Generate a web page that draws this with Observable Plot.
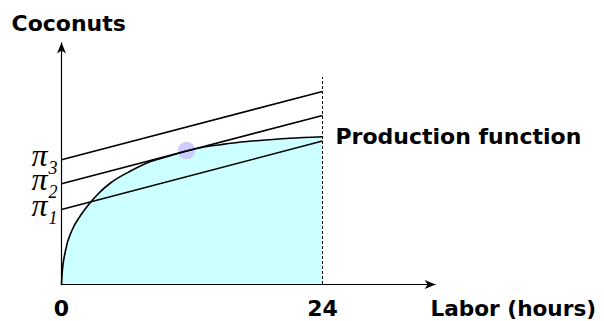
<!DOCTYPE html>
<html>
<head>
<meta charset="utf-8">
<script src="https://cdn.jsdelivr.net/npm/d3@7"></script>
<script src="https://cdn.jsdelivr.net/npm/@observablehq/plot@0.6"></script>
<style>
  html, body { margin: 0; padding: 0; background: #fff; }
  #chart svg { display: block; }
</style>
</head>
<body>
<div id="chart"></div>
<script>
// Production function (labor hours -> coconuts)
const laborHours = [0, 0.05, 0.35, 1.0, 1.75, 2.5, 3.4, 4.5, 6.35, 8.2, 10.0, 11.5, 13.0, 14.6, 16.5, 18.5, 21.0, 24];
const coconuts   = [0, 1.0, 3.3, 5.5, 6.9, 8.0, 9.1, 10.15, 11.35, 12.3, 12.88, 13.35, 13.72, 13.98, 14.25, 14.42, 14.62, 14.77];

// Iso-profit lines: value at 0 hours and at 24 hours
const profitLabels = ["1", "2", "3"];
const profitAt0  = [7.5, 10.07, 12.47];
const profitAt24 = [14.35, 16.9, 19.3];

// Optimum (tangency) point
const optimumHours = [11.5];
const optimumCoconuts = [13.4];

// Axis ticks and extents
const xTicks = [0, 24];
const xTickLabels = ["0", "24"];
const endowment = [24];
const endowmentTop = 20.7;
const xAxisEnd = 34.4;
const yAxisEnd = 24.2;

const curve = laborHours.map((h, i) => ({h, c: coconuts[i]}));
const iso = profitLabels.map((k, i) => ({k, y0: profitAt0[i], y1: profitAt24[i]}));
const opt = optimumHours.map((h, i) => ({h, c: optimumCoconuts[i]}));
const ticks = xTicks.map((t, i) => ({t, label: xTickLabels[i]}));

const arrowHead = {
  draw(ctx) {
    ctx.moveTo(0, 0);
    ctx.lineTo(-4.5, 11);
    ctx.lineTo(0, 8);
    ctx.lineTo(4.5, 11);
    ctx.closePath();
  }
};

const sans = "DejaVu Sans, Verdana, sans-serif";
const serif = "Liberation Serif, Times New Roman, serif";

const chart = Plot.plot({
  width: 604,
  height: 321,
  margin: 0,
  x: {domain: [0, 24], range: [61, 322], axis: null},
  y: {domain: [0, 24], range: [284, 44], axis: null},
  style: {background: "white"},
  marks: [
    Plot.areaY(curve, {x: "h", y: "c", fill: "#ccffff", curve: "monotone-x"}),
    Plot.dot(opt, {x: "h", y: "c", r: 8.7, fill: "#ccccff", stroke: "none"}),
    Plot.ruleX(endowment, {y1: 0, y2: endowmentTop, stroke: "black", strokeWidth: 1, strokeDasharray: "3,2"}),
    Plot.line(curve, {x: "h", y: "c", stroke: "black", strokeWidth: 1.6, curve: "monotone-x"}),
    Plot.link(iso, {x1: () => 0, x2: () => 24, y1: "y0", y2: "y1", stroke: "black", strokeWidth: 1.6}),
    // axes
    Plot.link([0], {x1: 0, x2: xAxisEnd, y1: 0, y2: 0, stroke: "black", strokeWidth: 1.2}),
    Plot.link([0], {x1: 0, x2: 0, y1: 0, y2: yAxisEnd, stroke: "black", strokeWidth: 1.2}),
    Plot.dot([0], {x: xAxisEnd, y: 0, symbol: arrowHead, rotate: 90, fill: "black", stroke: "none"}),
    Plot.dot([0], {x: 0, y: yAxisEnd, symbol: arrowHead, rotate: 0, fill: "black", stroke: "none"}),
    // pi labels
    Plot.text(iso, {x: () => 0, y: "y0", text: () => "π", textAnchor: "end", lineAnchor: "bottom",
      dx: -14, dy: 6, fontFamily: serif, fontStyle: "italic", fontSize: 32, fill: "black"}),
    Plot.text(iso, {x: () => 0, y: "y0", text: "k", textAnchor: "start", lineAnchor: "bottom",
      dx: -13, dy: 14, fontFamily: serif, fontStyle: "italic", fontSize: 18, fill: "black"}),
    // tick labels
    Plot.text(ticks, {x: "t", y: () => 0, text: "label", textAnchor: "middle", lineAnchor: "bottom",
      dy: 31, fontFamily: sans, fontWeight: "bold", fontSize: 22, fill: "black"}),
    // titles
    Plot.text(["Coconuts"], {frameAnchor: "top-left", text: d => d, textAnchor: "start", lineAnchor: "bottom",
      dx: 11, dy: 30, fontFamily: sans, fontWeight: "bold", fontSize: 22, fill: "black"}),
    Plot.text(["Labor (hours)"], {frameAnchor: "top-left", text: d => d, textAnchor: "start", lineAnchor: "bottom",
      dx: 430, dy: 315, fontFamily: sans, fontWeight: "bold", fontSize: 21.6, fill: "black"}),
    Plot.text([curve[curve.length - 1]], {x: "h", y: "c", text: () => "Production function", textAnchor: "start",
      lineAnchor: "bottom", dx: 13, dy: 7, fontFamily: sans, fontWeight: "bold", fontSize: 22, fill: "black"})
  ]
});
document.getElementById("chart").appendChild(chart);
</script>
</body>
</html>
